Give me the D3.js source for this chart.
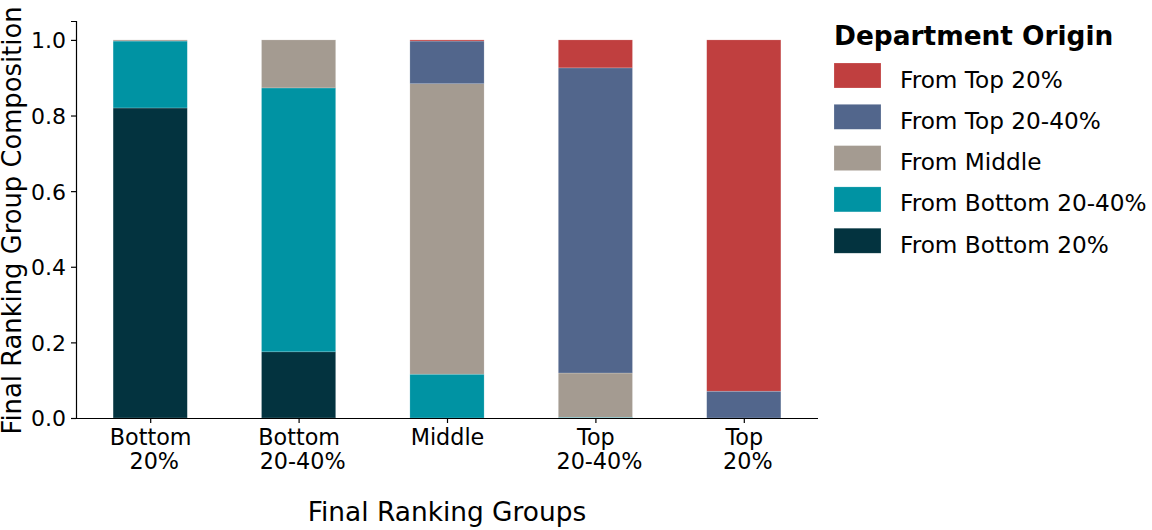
<!DOCTYPE html>
<html>
<head>
<meta charset="utf-8">
<script src="https://cdn.jsdelivr.net/npm/d3@7"></script>
<style>
  body { margin: 0; background: #fff; }
  text { font-family: "DejaVu Sans", sans-serif; fill: #000; }
</style>
</head>
<body>
<div id="chart"></div>
<script>
// groups along the x axis (two-line tick labels)
var groups = ["Bottom 20%", "Bottom 20-40%", "Middle", "Top 20-40%", "Top 20%"];
var groupLines = [["Bottom", " 20%"], ["Bottom", " 20-40%"], ["Middle"], ["Top", " 20-40%"], ["Top", " 20%"]];

// stacked series, bottom to top
var seriesNames = ["From Bottom 20%", "From Bottom 20-40%", "From Middle", "From Top 20-40%", "From Top 20%"];
var fromBottom20   = [0.820, 0.175, 0.000, 0.000, 0.000];
var fromBottom2040 = [0.177, 0.698, 0.116, 0.002, 0.000];
var fromMiddle     = [0.003, 0.127, 0.768, 0.117, 0.000];
var fromTop2040    = [0.000, 0.000, 0.113, 0.807, 0.071];
var fromTop20      = [0.000, 0.000, 0.003, 0.074, 0.929];
var colors = ["#03333f", "#0093a3", "#a49b91", "#52668c", "#c03f3f"];

var yTicks = [0, 0.2, 0.4, 0.6, 0.8, 1.0];

var svgWidth = 1152;
var svgHeight = 530;
var margin = {top: 21, right: 334, bottom: 112, left: 76};
var chartWidth = svgWidth - margin.left - margin.right;
var chartHeight = svgHeight - margin.top - margin.bottom;

var table = groups.map(function(g, i) {
  return {
    group: g,
    "From Bottom 20%": fromBottom20[i],
    "From Bottom 20-40%": fromBottom2040[i],
    "From Middle": fromMiddle[i],
    "From Top 20-40%": fromTop2040[i],
    "From Top 20%": fromTop20[i]
  };
});

var svg = d3.select("#chart")
  .append("svg")
  .attr("width", svgWidth)
  .attr("height", svgHeight);

var g = svg.append("g")
  .attr("transform", `translate(${margin.left},${margin.top})`);

// matplotlib style: categories at 0..4, limits -0.5..4.5
var xScale = d3.scaleLinear().domain([-0.5, groups.length - 0.5]).range([0, chartWidth]);
var yScale = d3.scaleLinear().domain([0, 1.05]).range([chartHeight, 0]);
var barWidth = xScale(0.5) - xScale(0);

var stack = d3.stack().keys(seriesNames);
var layers = stack(table);

g.selectAll("g.layer")
  .data(layers)
  .enter()
  .append("g")
  .attr("class", "layer")
  .attr("fill", function(d, i) { return colors[i]; })
  .selectAll("rect")
  .data(function(d) { return d; })
  .enter()
  .append("rect")
  .attr("x", function(d, i) { return xScale(i) - barWidth / 2; })
  .attr("y", function(d) { return yScale(d[1]); })
  .attr("width", barWidth)
  .attr("height", function(d) { return yScale(d[0]) - yScale(d[1]); })
  .attr("stroke", "#fff")
  .attr("stroke-opacity", 0.4)
  .attr("stroke-width", 0.5);

// y axis
var leftAxis = d3.axisLeft(yScale).tickValues(yTicks).tickFormat(d3.format(".1f")).tickSizeOuter(0).tickSize(5).tickPadding(5);
var yAxisG = g.append("g").call(leftAxis);
yAxisG.selectAll("text").style("font-size", "22px").attr("dy", "0.36em");

// x axis
var bottomAxis = d3.axisBottom(xScale).tickValues(d3.range(groups.length)).tickSizeOuter(0).tickSize(5).tickFormat("");
var xAxisG = g.append("g").attr("transform", `translate(0,${chartHeight})`).call(bottomAxis);
xAxisG.select(".domain").attr("d", `M0,0.5H${chartWidth}`);

[yAxisG, xAxisG].forEach(function(a) {
  a.selectAll("path, line").attr("stroke", "#000").attr("stroke-width", 1.2);
});

xAxisG.selectAll(".tick").each(function(d, i) {
  var t = d3.select(this).append("text")
    .attr("text-anchor", "middle")
    .style("font-size", "22.3px")
    .style("white-space", "pre")
    .attr("fill", "#000");
  groupLines[i].forEach(function(line, j) {
    t.append("tspan")
      .attr("x", 0)
      .attr("y", 27 + j * 24)
      .text(line);
  });
});

// axis labels
svg.append("text")
  .attr("text-anchor", "middle")
  .attr("x", margin.left + chartWidth / 2)
  .attr("y", 521)
  .style("font-size", "26.4px")
  .text("Final Ranking Groups");

svg.append("text")
  .attr("text-anchor", "middle")
  .attr("transform", `translate(21,${margin.top + chartHeight / 2 + 1}) rotate(-90)`)
  .style("font-size", "25.8px")
  .text("Final Ranking Group Composition");

// legend, top series first
var legend = svg.append("g").attr("transform", "translate(834,0)");
legend.append("text")
  .attr("x", 0)
  .attr("y", 45)
  .style("font-size", "26.4px")
  .style("font-weight", "bold")
  .text("Department Origin");

var legendOrder = seriesNames.slice().reverse();
var legendItems = legend.selectAll("g.item")
  .data(legendOrder)
  .enter()
  .append("g")
  .attr("class", "item")
  .attr("transform", function(d, i) { return `translate(0,${63 + i * 41.3})`; });

legendItems.append("rect")
  .attr("width", 47)
  .attr("height", 25)
  .attr("fill", function(d) { return colors[seriesNames.indexOf(d)]; })
  .attr("stroke", "#fff")
  .attr("stroke-opacity", 0.4)
  .attr("stroke-width", 0.5);

legendItems.append("text")
  .attr("x", 66)
  .attr("y", 24.5)
  .style("font-size", "23.2px")
  .text(function(d) { return d; });
</script>
</body>
</html>
